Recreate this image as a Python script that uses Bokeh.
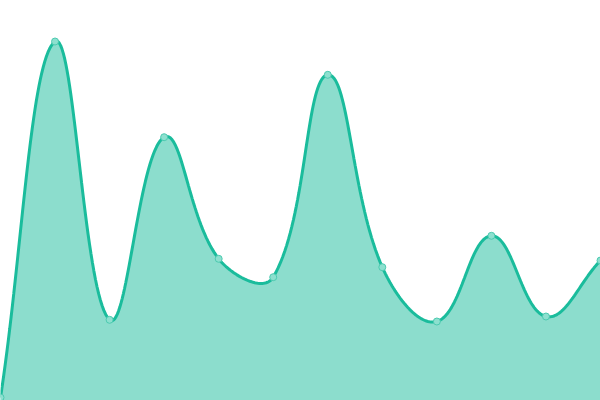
import numpy as np
from bokeh.plotting import figure
from bokeh.models import Range1d, InlineStyleSheet
from bokeh.embed import file_html
from bokeh.resources import INLINE

# data
categories = list(range(12))
values = [3, 359, 80.7, 263.3, 141.7, 123.3, 325.7, 133.3, 79, 164.7, 84, 140]

W, H = 600, 400
Y_MIN, Y_MAX = 0, 400
LINE = "#1abc9c"
FILL = "rgba(26,188,156,0.5)"
POINT_FILL = "#8de0cf"
POINT_LINE = "#4ccab0"

p = figure(width=W, height=H, output_backend="svg", toolbar_location=None,
           x_range=Range1d(categories[0], categories[-1]),
           y_range=Range1d(Y_MIN, Y_MAX), min_border=0)
p.axis.visible = False
p.grid.visible = False
p.outline_line_color = None
p.background_fill_color = "white"
p.border_fill_color = "white"
p.stylesheets = [InlineStyleSheet(css=":host { position: fixed !important; left: 0 !important; top: 0 !important; }")]

# spline (tension 0.4) computed in screen space, mapped back to data space
sx = W / (categories[-1] - categories[0])
sy = H / (Y_MAX - Y_MIN)
pts = [(c * sx, (v - Y_MIN) * sy) for c, v in zip(categories, values)]
t = 0.4
cps = []
n = len(pts)
for i in range(n):
    pp = pts[i - 1] if i > 0 else pts[i]
    cc = pts[i]
    nn = pts[i + 1] if i < n - 1 else pts[i]
    d01 = np.hypot(cc[0] - pp[0], cc[1] - pp[1])
    d12 = np.hypot(nn[0] - cc[0], nn[1] - cc[1])
    tot = d01 + d12
    s01 = d01 / tot if tot else 0
    s12 = d12 / tot if tot else 0
    fa, fb = t * s01, t * s12
    prev_cp = (cc[0] - fa * (nn[0] - pp[0]), cc[1] - fa * (nn[1] - pp[1]))
    next_cp = (cc[0] + fb * (nn[0] - pp[0]), cc[1] + fb * (nn[1] - pp[1]))
    prev_cp = (min(max(prev_cp[0], 0), W), min(max(prev_cp[1], 0), H))
    next_cp = (min(max(next_cp[0], 0), W), min(max(next_cp[1], 0), H))
    cps.append((prev_cp, next_cp))

cx, cy = [], []
ts = np.linspace(0, 1, 40)
for i in range(n - 1):
    p0 = pts[i]; p1 = cps[i][1]; p2 = cps[i + 1][0]; p3 = pts[i + 1]
    for k, tt in enumerate(ts):
        if i > 0 and k == 0:
            continue
        a = (1 - tt) ** 3; b = 3 * (1 - tt) ** 2 * tt; c = 3 * (1 - tt) * tt ** 2; d = tt ** 3
        X = a * p0[0] + b * p1[0] + c * p2[0] + d * p3[0]
        Y = a * p0[1] + b * p1[1] + c * p2[1] + d * p3[1]
        cx.append(X / sx + categories[0])
        cy.append(Y / sy + Y_MIN)

p.varea(x=cx, y1=[Y_MIN] * len(cx), y2=cy, fill_color=FILL)
p.line(cx, cy, line_color=LINE, line_width=3)
p.scatter(categories, values, size=7, fill_color=POINT_FILL, line_color=POINT_LINE, line_width=1)

open("out.html", "w").write(file_html(p, INLINE))
